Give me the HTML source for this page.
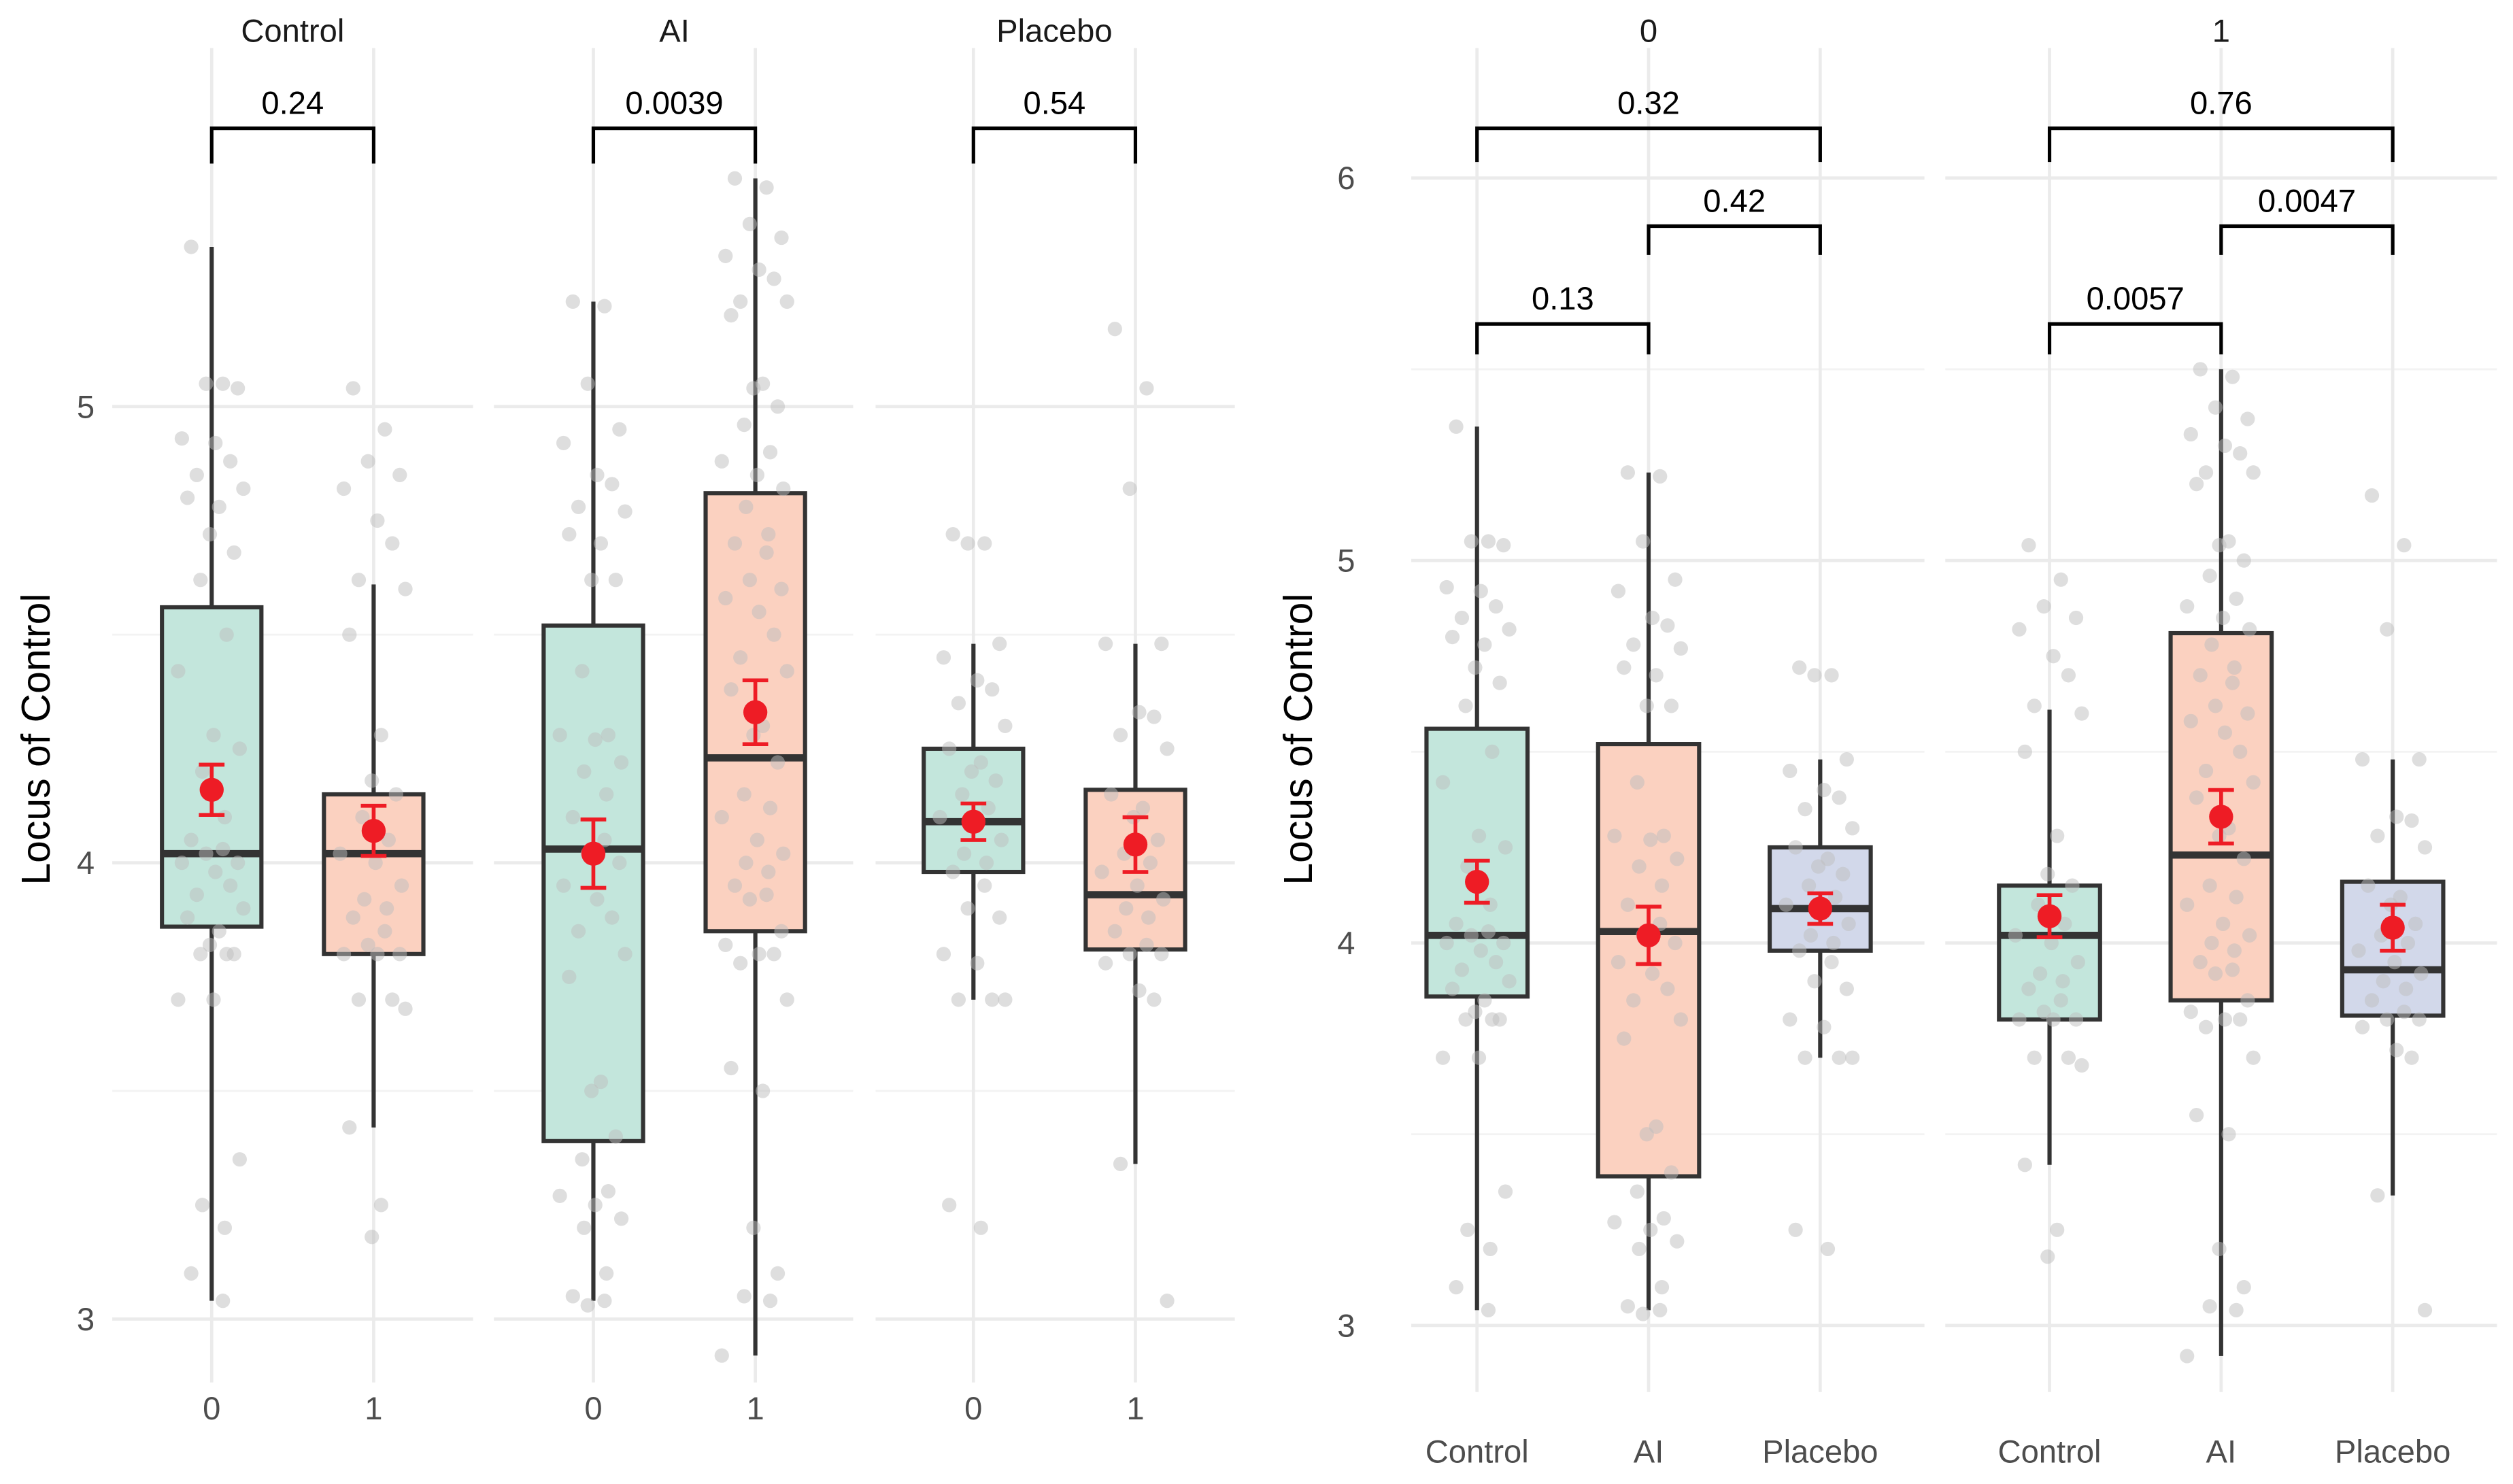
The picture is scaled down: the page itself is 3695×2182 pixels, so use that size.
<!DOCTYPE html>
<html><head><meta charset="utf-8"><style>
html,body{margin:0;padding:0;background:#fff}
svg{display:block}
text{font-family:"Liberation Sans",Arial,sans-serif}
</style></head><body>
<svg id="chart" width="3695" height="2182" viewBox="0 0 1567 925.35" preserveAspectRatio="none" xmlns="http://www.w3.org/2000/svg">
<rect x="0" y="0" width="1567" height="926" fill="#fff"/>
<g id="root"></g>
</svg>
<script>
// ---- data ----
const groupNames = ["Control","AI","Placebo"];
const sessions = ["0","1"];
// stats per group key "Group-session": [whiskerLow, q1, median, q3, whiskerHigh]
const boxStats = {
 "Control-0":[3.04,3.86,4.02,4.56,5.35],
 "Control-1":[3.42,3.80,4.02,4.15,4.61],
 "AI-0":[3.04,3.39,4.03,4.52,5.23],
 "AI-1":[2.92,3.85,4.23,4.81,5.50],
 "Placebo-0":[3.70,3.98,4.09,4.25,4.48],
 "Placebo-1":[3.34,3.81,3.93,4.16,4.48]
};
const meanVals = {"Control-0":4.16,"Control-1":4.07,"AI-0":4.02,"AI-1":4.33,"Placebo-0":4.09,"Placebo-1":4.04};
const seVals = {"Control-0":0.055,"Control-1":0.055,"AI-0":0.075,"AI-1":0.07,"Placebo-0":0.04,"Placebo-1":0.06};
const pointVals = {
 "Control-0":[5.35,5.05,5.05,5.04,4.93,4.92,4.88,4.85,4.82,4.80,4.78,4.72,4.68,4.62,4.50,4.42,4.28,4.25,4.20,4.10,4.05,4.03,4.02,4.00,4.00,3.98,3.95,3.93,3.90,3.88,3.85,3.82,3.80,3.80,3.80,3.70,3.70,3.35,3.25,3.20,3.10,3.04],
 "Control-1":[5.04,4.95,4.88,4.85,4.82,4.75,4.70,4.62,4.60,4.50,4.28,4.18,4.15,4.10,4.05,4.02,4.00,3.95,3.92,3.90,3.88,3.85,3.82,3.80,3.80,3.80,3.70,3.70,3.68,3.42,3.25,3.18],
 "AI-0":[5.23,5.22,5.05,4.95,4.92,4.85,4.83,4.78,4.77,4.72,4.70,4.62,4.62,4.42,4.28,4.28,4.27,4.22,4.20,4.15,4.10,4.05,4.02,4.00,3.95,3.92,3.88,3.85,3.80,3.75,3.52,3.50,3.40,3.35,3.28,3.27,3.25,3.22,3.20,3.10,3.05,3.04,3.03],
 "AI-1":[5.50,5.48,5.40,5.37,5.33,5.30,5.28,5.23,5.23,5.20,5.05,5.04,5.00,4.96,4.90,4.88,4.85,4.82,4.78,4.72,4.70,4.68,4.62,4.60,4.58,4.55,4.50,4.45,4.42,4.38,4.30,4.28,4.22,4.15,4.12,4.10,4.05,4.02,4.00,3.98,3.95,3.93,3.92,3.85,3.82,3.80,3.80,3.78,3.70,3.55,3.50,3.20,3.10,3.05,3.04,2.92],
 "Placebo-0":[4.72,4.70,4.70,4.48,4.45,4.40,4.38,4.35,4.30,4.25,4.22,4.20,4.18,4.15,4.12,4.10,4.08,4.05,4.02,4.00,3.98,3.95,3.90,3.88,3.80,3.78,3.70,3.70,3.70,3.25,3.20],
 "Placebo-1":[5.17,5.04,4.82,4.48,4.48,4.33,4.32,4.28,4.25,4.15,4.12,4.10,4.05,4.02,4.00,3.98,3.95,3.92,3.90,3.88,3.85,3.82,3.80,3.80,3.78,3.72,3.70,3.34,3.04]
};
const leftPvals = ["0.24","0.0039","0.54"];
const rightPvals = [["0.32","0.42","0.13"],["0.76","0.0047","0.0057"]];
const leftTicks = [3,4,5];
const rightTicks = [3,4,5,6];
const fills = {"Control":"#c3e6dc","AI":"#fbd1c0","Placebo":"#d2d8ea"};
const jit = [-0.55,0.3,-0.15,0.7,-0.8,0.1,0.5,-0.4,0.85,-0.65,0.2,-0.05,0.6,-0.3,0.4,-0.9,0.05,0.75,-0.25,0.35];

const NS="http://www.w3.org/2000/svg";
const root=document.getElementById('root');
function mk(tag,attrs,parent){const e=document.createElementNS(NS,tag);for(const k in attrs)e.setAttribute(k,attrs[k]);(parent||root).appendChild(e);return e;}
function txt(x,y,s,size,fill,anchor,parent){const t=mk('text',{x:x,y:y,'font-size':size,fill:fill,'text-anchor':anchor||'middle'},parent);t.textContent=s;return t;}

const yL = v => 538 - (v-4)*284.5;
const yR = v => 588 - (v-4)*238.5;

function drawGrid(x0,x1,ys,minors){
 ys.forEach(y=>{const l=mk('line',{x1:x0,x2:x1,y1:y,y2:y,stroke:'#ebebeb','stroke-width':2});
  });
 minors.forEach(y=>{const l=mk('line',{x1:x0,x2:x1,y1:y,y2:y,stroke:'#f3f3f3','stroke-width':1.2});
  });
}
function drawBox(key,cx,ys,hw,gname){
 const g=mk('g',{});
 
 
 const s=boxStats[key];
 mk('line',{x1:cx,x2:cx,y1:ys(s[0]),y2:ys(s[4]),stroke:'#333','stroke-width':2.6},g);
 mk('rect',{x:cx-hw,y:ys(s[3]),width:2*hw,height:ys(s[1])-ys(s[3]),fill:fills[gname],stroke:'#333','stroke-width':2.6},g);
 mk('line',{x1:cx-hw,x2:cx+hw,y1:ys(s[2]),y2:ys(s[2]),stroke:'#333','stroke-width':4.5},g);
 const pts=pointVals[key];
 pts.forEach((v,i)=>{const c=mk('circle',{cx:cx+jit[i%jit.length]*hw*0.75,cy:ys(v),r:4.5,fill:'#bdbdbd','fill-opacity':0.5},g);
  });
 const m=meanVals[key],se=seVals[key];
 const eb=mk('g',{},g);
 mk('line',{x1:cx,x2:cx,y1:ys(m-se),y2:ys(m+se),stroke:'#ee1c25','stroke-width':2.4},eb);
 mk('line',{x1:cx-8,x2:cx+8,y1:ys(m-se),y2:ys(m-se),stroke:'#ee1c25','stroke-width':2.4},eb);
 mk('line',{x1:cx-8,x2:cx+8,y1:ys(m+se),y2:ys(m+se),stroke:'#ee1c25','stroke-width':2.4},eb);
 const mc=mk('circle',{cx:cx,cy:ys(m),r:7.5,fill:'#ee1c25'},eb);
 
}
function bracket(xa,xb,y,label,drop){
 const g=mk('g',{});
 
 
 mk('path',{d:`M${xa},${y+drop} V${y} H${xb} V${y+drop}`,fill:'none',stroke:'#000','stroke-width':2.2},g);
 txt((xa+xb)/2,y-9,label,20,'#000','middle',g);
}

// ---- left figure ----
const leftPanels=[[70,295,132,233],[308,532,370,471],[546,770,607,708]];
groupNames.forEach((gname,i)=>{
 const [x0,x1,c0,c1]=leftPanels[i];
 drawGrid(x0,x1,leftTicks.map(yL),[3.5,4.5].map(yL));
 [c0,c1].forEach(c=>{const l=mk('line',{x1:c,x2:c,y1:30,y2:862,stroke:'#ebebeb','stroke-width':2});
  });
 const t=txt((c0+c1)/2,26,gname,20,'#1a1a1a');
 drawBox(gname+'-0',c0,yL,31,'Control');
 drawBox(gname+'-1',c1,yL,31,'AI');
 bracket(c0,c1,80,leftPvals[i],22);
 sessions.forEach((s,j)=>{const tt=txt(j?c1:c0,885,s,20,'#4d4d4d');});
});
leftTicks.forEach(v=>{const t=txt(59,yL(v)+7,String(v),20,'#4d4d4d','end');});
{const t=txt(0,0,'Locus of Control',25,'#000');t.setAttribute('transform','translate(31,461) rotate(-90)');}

// ---- right figure ----
const rightPanels=[[880,1200,[921,1028,1135]],[1213,1557,[1278,1385,1492]]];
sessions.forEach((s,i)=>{
 const [x0,x1,cs]=rightPanels[i];
 drawGrid(x0,x1,rightTicks.map(yR),[3.5,4.5,5.5].map(yR));
 cs.forEach(c=>{const l=mk('line',{x1:c,x2:c,y1:30,y2:868,stroke:'#ebebeb','stroke-width':2});
  });
 const t=txt(cs[1],26,s,20,'#1a1a1a');
 groupNames.forEach((g,j)=>{drawBox(g+'-'+s,cs[j],yR,31.5,g);
  const tt=txt(cs[j],912,g,20,'#4d4d4d');});
 bracket(cs[0],cs[2],80,rightPvals[i][0],21);
 bracket(cs[1],cs[2],141,rightPvals[i][1],18);
 bracket(cs[0],cs[1],202,rightPvals[i][2],19);
});
rightTicks.forEach(v=>{const t=txt(845,yR(v)+7,String(v),20,'#4d4d4d','end');});
{const t=txt(0,0,'Locus of Control',25,'#000');t.setAttribute('transform','translate(818,461) rotate(-90)');}
</script>
</body></html>
